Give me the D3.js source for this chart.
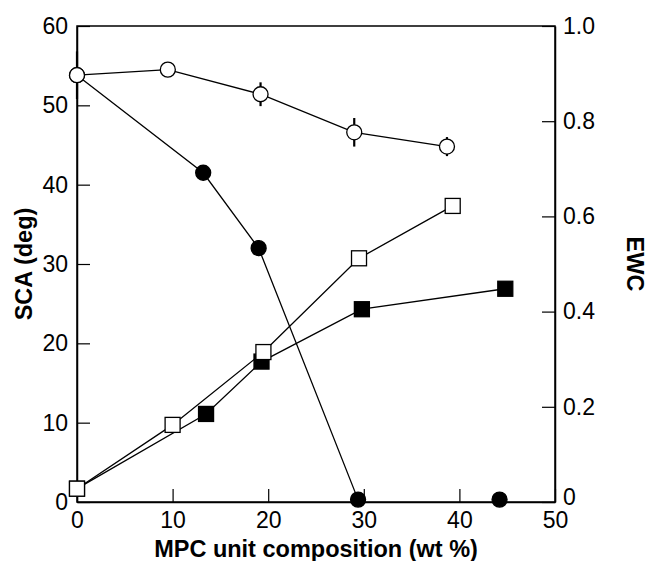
<!DOCTYPE html>
<html><head><meta charset="utf-8">
<script src="https://cdn.jsdelivr.net/npm/d3@7"></script>
<style>body{margin:0;background:#fff}svg{display:block}</style>
</head><body>
<svg id="c" width="648" height="561"></svg>
<script>
// SCA (left axis, deg)
const openCircleX = [0, 9.5, 19.2, 29.0, 38.7];
const openCircleY = [53.8, 54.5, 51.4, 46.6, 44.8];
const openCircleErr = [3.0, 0, 1.5, 1.8, 1.2];
const filledCircleX = [0, 13.2, 19.0, 29.4];
const filledCircleY = [53.8, 41.5, 32.0, 0.3];
const filledCircleErr = [0, 0, 1.0, 0];
const filledCircleLoneX = [44.2];
const filledCircleLoneY = [0.3];
// EWC (right axis)
const openSquareX = [0, 10.0, 19.5, 29.5, 39.3];
const openSquareY = [0.028, 0.162, 0.315, 0.512, 0.622];
const filledSquareX = [0, 13.5, 19.3, 29.8, 44.8];
const filledSquareY = [0.028, 0.185, 0.295, 0.405, 0.448];

const xTicks = [0, 10, 20, 30, 40, 50];
const yLeftTicks = [0, 10, 20, 30, 40, 50, 60];
const yRightTicks = [0, 0.2, 0.4, 0.6, 0.8, 1.0];
const yRightLabels = ["0", "0.2", "0.4", "0.6", "0.8", "1.0"];

const L = 77, R = 555, T = 26, B = 502;
const svg = d3.select("#c");
const x = d3.scaleLinear().domain([0, 50]).range([L, R]);
const yl = d3.scaleLinear().domain([0, 60]).range([B, T]);
const yr = d3.scaleLinear().domain([0, 1]).range([B, T]);
const font = "'Liberation Sans', Arial, sans-serif";

// frame
svg.append("rect").attr("x", L).attr("y", T).attr("width", R - L).attr("height", B - T)
  .attr("fill", "none").attr("stroke", "#000").attr("stroke-width", 1.5);

// axes
const ax = svg.append("g").attr("transform", `translate(0,${B})`)
  .call(d3.axisBottom(x).tickValues(xTicks).tickSizeInner(-13).tickSizeOuter(0).tickPadding(10).tickFormat(d3.format("d")));
const ayl = svg.append("g").attr("transform", `translate(${L},0)`)
  .call(d3.axisLeft(yl).tickValues(yLeftTicks).tickSizeInner(-13).tickSizeOuter(0).tickPadding(9).tickFormat(d3.format("d")));
const ayr = svg.append("g").attr("transform", `translate(${R},0)`)
  .call(d3.axisRight(yr).tickValues(yRightTicks).tickSizeInner(-13).tickSizeOuter(0).tickPadding(8).tickFormat((d, i) => yRightLabels[i]));
[ax, ayl, ayr].forEach(g => {
  g.select(".domain").attr("stroke-width", 1.5);
  g.selectAll(".tick line").attr("stroke-width", 1.2);
  g.selectAll("text").attr("font-family", font).attr("font-size", 23).attr("fill", "#000");
});
ayr.selectAll(".tick").filter(d => d === 0).select("text").attr("y", -5);

// titles
svg.append("text").attr("x", (L + R) / 2).attr("y", 557).attr("text-anchor", "middle")
  .attr("font-family", font).attr("font-weight", "bold").attr("font-size", 23.5).text("MPC unit composition (wt %)");
svg.append("text").attr("transform", `translate(32,${(T + B) / 2}) rotate(-90)`).attr("text-anchor", "middle")
  .attr("font-family", font).attr("font-weight", "bold").attr("font-size", 23.5).text("SCA (deg)");
svg.append("text").attr("transform", `translate(627,${(T + B) / 2}) rotate(90)`).attr("text-anchor", "middle")
  .attr("font-family", font).attr("font-weight", "bold").attr("font-size", 23.5).text("EWC");

const line = (xs, ys, sy) => d3.line().x((d, i) => x(xs[i])).y((d, i) => sy(ys[i]))(xs);
const drawLine = (xs, ys, sy) => svg.append("path").attr("d", line(xs, ys, sy))
  .attr("fill", "none").attr("stroke", "#000").attr("stroke-width", 1.3);

drawLine(openSquareX, openSquareY, yr);
drawLine(filledSquareX, filledSquareY, yr);
drawLine(filledCircleX, filledCircleY, yl);
drawLine(openCircleX, openCircleY, yl);

// error bars
function errs(xs, ys, es) {
  xs.forEach((v, i) => {
    if (!es[i]) return;
    svg.append("line").attr("x1", x(v)).attr("x2", x(v))
      .attr("y1", yl(ys[i] - es[i])).attr("y2", yl(ys[i] + es[i]))
      .attr("stroke", "#000").attr("stroke-width", 2.2);
  });
}
errs(filledCircleX, filledCircleY, filledCircleErr);
errs(openCircleX, openCircleY, openCircleErr);

const sq = 15, cr = 7.5;
function squares(xs, ys, fill) {
  svg.append("g").selectAll("rect").data(xs).join("rect")
    .attr("x", (d) => x(d) - sq / 2).attr("y", (d, i) => yr(ys[i]) - sq / 2)
    .attr("width", sq).attr("height", sq).attr("fill", fill).attr("stroke", "#000").attr("stroke-width", 1.3);
}
function circles(xs, ys, fill) {
  svg.append("g").selectAll("circle").data(xs).join("circle")
    .attr("cx", (d) => x(d)).attr("cy", (d, i) => yl(ys[i])).attr("r", cr)
    .attr("fill", fill).attr("stroke", "#000").attr("stroke-width", 1.3);
}
squares(filledSquareX, filledSquareY, "#000");
squares(openSquareX, openSquareY, "#fff");
circles(filledCircleX, filledCircleY, "#000");
circles(filledCircleLoneX, filledCircleLoneY, "#000");
circles(openCircleX, openCircleY, "#fff");
</script>
</body></html>
